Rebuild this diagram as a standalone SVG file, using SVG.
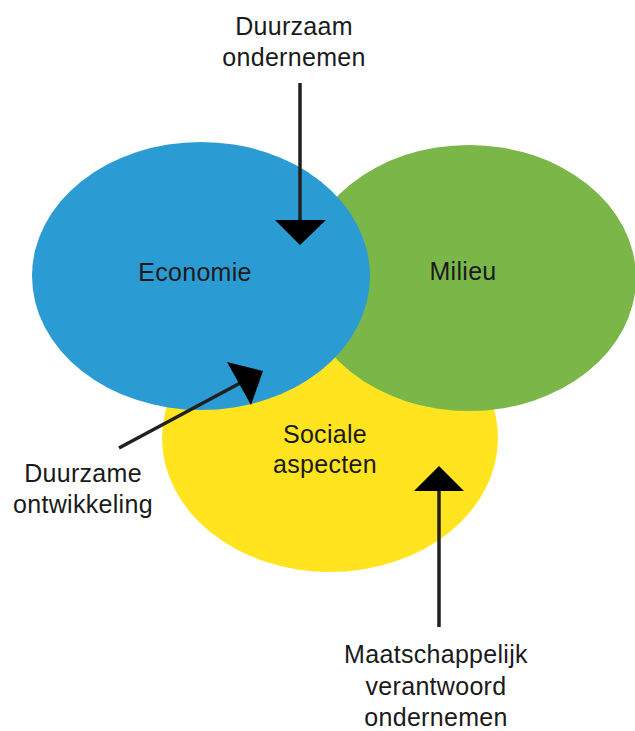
<svg xmlns="http://www.w3.org/2000/svg" width="635" height="731" viewBox="0 0 635 731">
<style>
text{font-family:"Liberation Sans","Noto Sans",Arial,sans-serif;font-size:25px;letter-spacing:0.3px;fill:#1a1a1a;text-anchor:middle}
.ln{stroke:#231f20;stroke-width:3.5;fill:none}
.hd{fill:#000}
</style>
<rect width="635" height="731" fill="#fff"/>
<g id="sociale">
<ellipse cx="330" cy="438" rx="168" ry="134" fill="#ffe41f"/>
</g>
<g id="milieu">
<ellipse cx="469" cy="278" rx="167" ry="133" fill="#7ab648"/>
<text x="463" y="280">Milieu</text>
</g>
<g id="economie">
<ellipse cx="201" cy="276" rx="169" ry="134" fill="#2b9bd3"/>
<text x="195" y="281">Economie</text>
</g>
<g id="sociale-label">
<text x="325" y="443">Sociale</text>
<text x="325" y="473">aspecten</text>
</g>
<g id="connectors">
<line class="ln" x1="300" y1="83" x2="300" y2="224"/>
<polygon class="hd" points="275,220 326,220 300,245"/>
<line class="ln" x1="119" y1="448" x2="244" y2="381"/>
<polygon class="hd" points="227,362 263,371 251,405"/>
<line class="ln" x1="439" y1="627" x2="439" y2="488"/>
<polygon class="hd" points="414,491 464,491 439,466"/>
</g>
<g id="duurzaam-ondernemen">
<text x="294" y="35">Duurzaam</text>
<text x="294" y="66">ondernemen</text>
</g>
<g id="duurzame-ontwikkeling">
<text x="83" y="482">Duurzame</text>
<text x="83" y="513">ontwikkeling</text>
</g>
<g id="mvo">
<text x="436" y="663">Maatschappelijk</text>
<text x="436" y="695">verantwoord</text>
<text x="436" y="726">ondernemen</text>
</g>
</svg>
